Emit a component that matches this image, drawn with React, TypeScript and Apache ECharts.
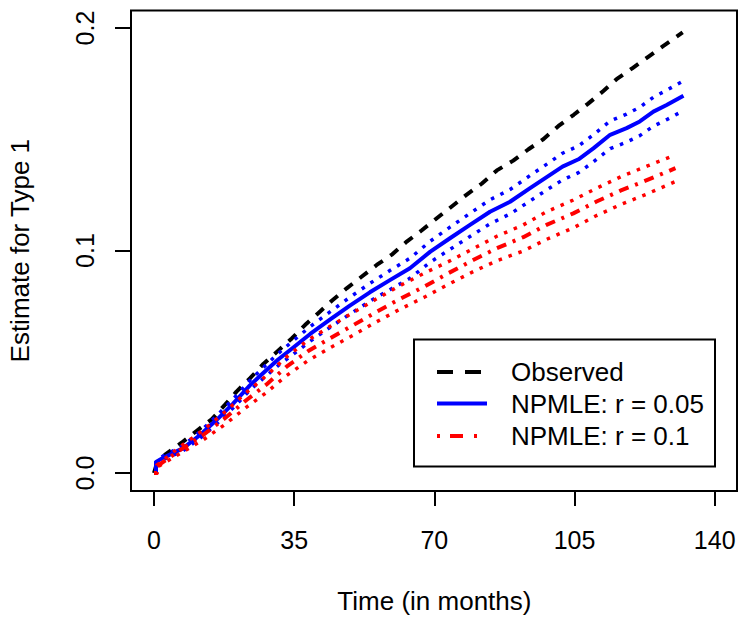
import React, { useEffect, useRef } from "react";
import * as echarts from "echarts";

// ---- data ----
const xTicks = [0, 35, 70, 105, 140];
const yTicks = [0, 0.1, 0.2];

const obsTime = [0, 0.5, 2.7, 6.9, 10.7, 14.4, 17.7, 20.6, 24, 27.3, 31, 34.4, 37.7, 41, 44.4, 48.1, 51.9, 55.6, 59.5, 63.1, 66.8, 70.6, 74.5, 78, 81.8, 85.6, 89.7, 93.5, 97.2, 101, 104.8, 108.4, 112.2, 115.5, 119.5, 123.4, 127.2, 131.2, 132];
const obsValue = [0, 0.003, 0.0081, 0.0136, 0.019, 0.0241, 0.0306, 0.0366, 0.0426, 0.049, 0.055, 0.0605, 0.0665, 0.0718, 0.0774, 0.083, 0.0883, 0.0935, 0.0983, 0.104, 0.109, 0.1145, 0.12, 0.125, 0.13, 0.136, 0.1404, 0.1455, 0.15, 0.156, 0.161, 0.166, 0.1717, 0.177, 0.182, 0.187, 0.192, 0.197, 0.198];

const r05Time = [0, 0.5, 0.5, 2.3, 7.3, 11.5, 15.6, 19.8, 24, 28.1, 31, 34, 39, 44, 48.9, 53.9, 58.9, 63.9, 69, 73.9, 78.9, 83.9, 88.9, 93.9, 98.9, 102, 106, 109.7, 113.9, 118, 121.3, 124.7, 128, 132.2];
const r05Est = [0, 0, 0.005, 0.0068, 0.0112, 0.0171, 0.0238, 0.0313, 0.0395, 0.0463, 0.051, 0.0553, 0.0625, 0.069, 0.0752, 0.0812, 0.0867, 0.092, 0.0995, 0.1055, 0.1115, 0.1174, 0.1219, 0.128, 0.134, 0.1377, 0.141, 0.1459, 0.152, 0.155, 0.158, 0.1624, 0.1654, 0.1696];
const r05Upper = [0, 0, 0.0055, 0.0076, 0.0124, 0.0186, 0.0256, 0.0333, 0.0417, 0.0488, 0.0537, 0.0583, 0.0658, 0.0725, 0.079, 0.0852, 0.091, 0.0965, 0.1042, 0.1105, 0.1167, 0.1228, 0.1274, 0.1337, 0.1398, 0.1437, 0.147, 0.152, 0.1582, 0.1613, 0.1644, 0.1689, 0.172, 0.1763];
const r05Lower = [0, 0, 0.0045, 0.006, 0.01, 0.0156, 0.022, 0.0293, 0.0373, 0.0438, 0.0483, 0.0523, 0.0592, 0.0655, 0.0714, 0.0772, 0.0824, 0.0875, 0.0948, 0.1005, 0.1063, 0.112, 0.1164, 0.1223, 0.1282, 0.1317, 0.135, 0.1398, 0.1458, 0.1487, 0.1516, 0.1559, 0.1588, 0.1629];

const r10Time = [0, 0.7, 0.7, 6.5, 12.3, 17.7, 23.1, 28.1, 33.1, 38.5, 43.9, 49.8, 55.6, 61.4, 67.7, 73.5, 79.7, 85.6, 92.2, 98, 104.7, 110.5, 116.6, 123.2, 130.2];
const r10Est = [0, 0, 0.003, 0.0103, 0.0171, 0.0246, 0.0328, 0.0398, 0.0478, 0.0548, 0.0605, 0.0665, 0.0725, 0.0782, 0.084, 0.0898, 0.0957, 0.101, 0.106, 0.1115, 0.1167, 0.122, 0.127, 0.1317, 0.137];
const r10Upper = [0, 0, 0.0035, 0.0118, 0.0193, 0.0274, 0.0362, 0.0438, 0.0522, 0.0598, 0.0658, 0.0722, 0.0783, 0.0842, 0.09, 0.095, 0.1008, 0.1064, 0.1115, 0.1174, 0.1227, 0.128, 0.1332, 0.138, 0.143];
const r10Lower = [0, 0, 0.0025, 0.0088, 0.0149, 0.0218, 0.0296, 0.0362, 0.0438, 0.0506, 0.0562, 0.062, 0.068, 0.0736, 0.0792, 0.0848, 0.0905, 0.0954, 0.0998, 0.105, 0.1102, 0.1157, 0.1207, 0.1255, 0.131];

const legendLabels = ["Observed", "NPMLE: r = 0.05", "NPMLE: r = 0.1"];
const xTitle = "Time (in months)";
const yTitle = "Estimate for Type 1";

const FONT = '"Liberation Sans", Arial, Helvetica, sans-serif';
const BLUE = "#0000ff";
const RED = "#ff0000";

const pairs = (t: number[], v: number[]) => t.map((x, i) => [x, v[i]]);

export default function App() {
  const ref = useRef<HTMLDivElement>(null);
  useEffect(() => {
    if (!ref.current) return;
    const chart = echarts.init(ref.current, undefined, { renderer: "svg" });
    const lineSeries = (data: number[][], color: string, width: number, type: any, z: number) => ({
      type: "line",
      data,
      showSymbol: false,
      symbol: "none",
      silent: true,
      z,
      lineStyle: { color, width, type, cap: "butt", join: "round" },
    });
    const dotted = [3.5, 7];
    const option: any = {
      animation: false,
      backgroundColor: "#ffffff",
      grid: {
        left: 154,
        right: 33.3,
        top: 28,
        bottom: 155,
        containLabel: false,
        outerBoundsMode: "none",
      },
      xAxis: {
        type: "value",
        min: xTicks[0],
        max: xTicks[xTicks.length - 1],
        interval: 35,
        offset: 18,
        axisLine: { show: true, onZero: false, lineStyle: { color: "#000", width: 2 } },
        axisTick: { show: true, length: 15, lineStyle: { color: "#000", width: 2 } },
        axisLabel: { fontSize: 25, color: "#000", fontFamily: FONT, margin: 36 },
        splitLine: { show: false },
      },
      yAxis: {
        type: "value",
        min: yTicks[0],
        max: yTicks[yTicks.length - 1],
        interval: 0.1,
        offset: 23,
        axisLine: { show: true, onZero: false, lineStyle: { color: "#000", width: 2 } },
        axisTick: { show: true, length: 16, lineStyle: { color: "#000", width: 2 } },
        axisLabel: {
          fontSize: 25,
          color: "#000",
          fontFamily: FONT,
          rotate: 90,
          margin: 34,
          formatter: (v: number) => v.toFixed(1),
        },
        splitLine: { show: false },
      },
      series: [
        lineSeries(pairs(obsTime, obsValue), "#000000", 4, [10, 9], 2),
        lineSeries(pairs(r05Time, r05Upper), BLUE, 3.5, dotted, 3),
        lineSeries(pairs(r05Time, r05Lower), BLUE, 3.5, dotted, 3),
        lineSeries(pairs(r05Time, r05Est), BLUE, 4, "solid", 3),
        lineSeries(pairs(r10Time, r10Upper), RED, 3.5, dotted, 4),
        lineSeries(pairs(r10Time, r10Lower), RED, 3.5, dotted, 4),
        lineSeries(pairs(r10Time, r10Est), RED, 4, [3, 7, 10, 7], 4),
      ],
      graphic: [
        {
          type: "rect",
          silent: true,
          z: 10,
          shape: { x: 131, y: 10.5, width: 606, height: 480.5 },
          style: { fill: "none", stroke: "#000", lineWidth: 2 },
        },
        {
          type: "rect",
          silent: true,
          z: 10,
          shape: { x: 414, y: 339.5, width: 301, height: 127 },
          style: { fill: "#fff", stroke: "#000", lineWidth: 2 },
        },
        {
          type: "line",
          silent: true,
          z: 11,
          shape: { x1: 437, y1: 372, x2: 487, y2: 372 },
          style: { stroke: "#000", lineWidth: 4, lineDash: [16, 12] },
        },
        {
          type: "line",
          silent: true,
          z: 11,
          shape: { x1: 437, y1: 403.5, x2: 487, y2: 403.5 },
          style: { stroke: BLUE, lineWidth: 4 },
        },
        {
          type: "line",
          silent: true,
          z: 11,
          shape: { x1: 437, y1: 436, x2: 487, y2: 436 },
          style: { stroke: RED, lineWidth: 4, lineDash: [3, 10, 13, 11] },
        },
        ...legendLabels.map((txt, i) => ({
          type: "text",
          silent: true,
          z: 11,
          x: 511,
          y: [372, 404, 435.5][i],
          style: {
            text: txt,
            fill: "#000",
            font: `26px ${FONT}`,
            align: "left",
            verticalAlign: "middle",
          },
        })),
        {
          type: "text",
          silent: true,
          z: 11,
          x: 434.4,
          y: 601,
          style: { text: xTitle, fill: "#000", font: `26px ${FONT}`, align: "center", verticalAlign: "middle" },
        },
        {
          type: "text",
          silent: true,
          z: 11,
          x: 20,
          y: 250.7,
          rotation: Math.PI / 2,
          style: { text: yTitle, fill: "#000", font: `26px ${FONT}`, align: "center", verticalAlign: "middle" },
        },
      ],
    };
    chart.setOption(option);
    return () => chart.dispose();
  }, []);
  return (
    <div
      ref={ref}
      style={{ position: "fixed", left: 0, top: 0, width: 748, height: 628, background: "#fff" }}
    />
  );
}
